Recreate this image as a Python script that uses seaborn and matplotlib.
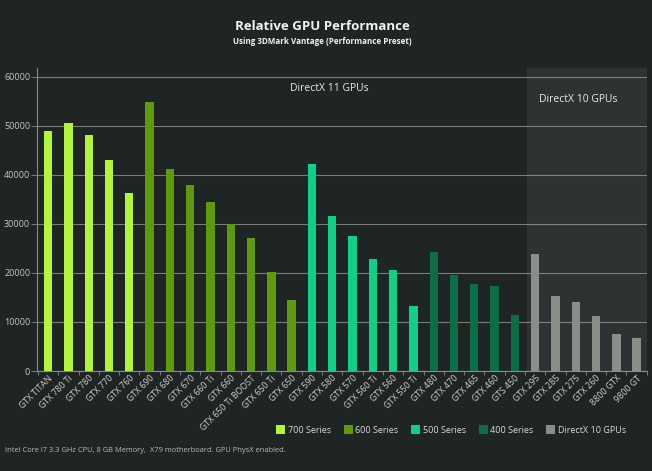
import matplotlib
matplotlib.use("Agg")
import matplotlib.pyplot as plt
import seaborn as sns
import pandas as pd
from matplotlib.ticker import MultipleLocator, FixedLocator
from matplotlib.patches import Patch

gpus = ["GTX TITAN", "GTX 780 Ti", "GTX 780", "GTX 770", "GTX 760",
        "GTX 690", "GTX 680", "GTX 670", "GTX 660 Ti", "GTX 660",
        "GTX 650 Ti BOOST", "GTX 650 Ti", "GTX 650",
        "GTX 590", "GTX 580", "GTX 570", "GTX 560 Ti", "GTX 560", "GTX 550 Ti",
        "GTX 480", "GTX 470", "GTX 465", "GTX 460", "GTS 450",
        "GTX 295", "GTX 285", "GTX 275", "GTX 260", "8800 GTX", "9800 GT"]
scores = [48900, 50600, 48200, 43100, 36400,
          54900, 41300, 38000, 34400, 29900,
          27050, 20200, 14500,
          42300, 31550, 27500, 22900, 20500, 13200,
          24300, 19550, 17650, 17300, 11500,
          23800, 15250, 14100, 11300, 7550, 6750]
series = (["700 Series"] * 5 + ["600 Series"] * 8 + ["500 Series"] * 6
          + ["400 Series"] * 5 + ["DirectX 10 GPUs"] * 6)
series_order = ["700 Series", "600 Series", "500 Series", "400 Series", "DirectX 10 GPUs"]
series_colors = ["#b4f53c", "#5e9a10", "#12cf88", "#0b6e46", "#8b8d89"]

df = pd.DataFrame({"gpu": gpus, "score": scores, "series": series})

BG = "#1f2424"
sns.set_theme(style="dark")
plt.rcParams["font.family"] = ["Open Sans", "DejaVu Sans"]

fig = plt.figure(figsize=(6.52, 4.71), dpi=100, facecolor=BG)
ax = fig.add_axes([0.057, 0.2123, 0.935, 0.6433])
ax.set_facecolor(BG)

ax.axvspan(23.6, 29.5, color="#2d3333", zorder=0, lw=0)

sns.barplot(data=df, x="gpu", y="score", hue="series", hue_order=series_order,
            palette=series_colors, dodge=False, width=0.41, saturation=1,
            ax=ax, zorder=3, edgecolor="none")

ax.set_xlim(-0.54, 29.5)
ax.set_ylim(0, 61800)
ax.yaxis.set_major_locator(MultipleLocator(10000))
ax.grid(axis="y", color="#9a9c9a", lw=0.8, alpha=0.75, zorder=1)
ax.grid(axis="x", visible=False)
ax.set_axisbelow(True)
ax.set_xlabel("")
ax.set_ylabel("")

for s in ["top", "right"]:
    ax.spines[s].set_visible(False)
for s in ["left", "bottom"]:
    ax.spines[s].set_visible(True)
    ax.spines[s].set_color("#8a8c8a")
    ax.spines[s].set_linewidth(0.8)

ax.tick_params(axis="y", colors="#c4c7c4", labelsize=6.5, length=4, width=0.6,
               direction="out", left=True, color="#8a8c8a", pad=1)
ax.tick_params(axis="x", colors="#cfd2cf", labelsize=6.3, length=0, pad=2)
ax.xaxis.set_minor_locator(FixedLocator([i + 0.5 for i in range(-1, 30)]))
ax.tick_params(axis="x", which="minor", bottom=True, length=3, width=0.6, color="#8a8c8a")
for lab in ax.get_yticklabels():
    lab.set_color("#c4c7c4")
plt.setp(ax.get_xticklabels(), rotation=45, ha="right", rotation_mode="anchor", color="#cfd2cf")

ax.text(13.84, 57550, "DirectX 11 GPUs", color="#e6e8e6", fontsize=7.5, ha="center", va="center")
ax.text(26.1, 55300, "DirectX 10 GPUs", color="#e6e8e6", fontsize=7.5, ha="center", va="center")

fig.text(0.494, 1 - 27 / 471, "Relative GPU Performance", color="#f2f2f2",
         fontsize=9.5, fontweight="bold", ha="center", va="center")
fig.text(0.494, 1 - 42 / 471, "Using 3DMark Vantage (Performance Preset)", color="#f2f2f2",
         fontsize=5.8, fontweight="bold", ha="center", va="center")
fig.text(5 / 652, 1 - 451 / 471,
         "Intel Core i7 3.3 GHz CPU, 8 GB Memory,  X79 motherboard. GPU PhysX enabled.",
         color="#b8bab8", fontsize=5.4, ha="left", va="center")

leg = ax.get_legend()
if leg is not None:
    leg.remove()
handles = [Patch(facecolor=c, edgecolor="none") for c in series_colors]
fig.legend(handles, series_order, loc="center", bbox_to_anchor=(451 / 652, 1 - 430 / 471),
           ncol=5, frameon=False, fontsize=6.5, labelcolor="#d8dad8",
           handlelength=1.0, handleheight=1.0, handletextpad=0.3, columnspacing=1.4)

fig.savefig("out.png", dpi=100, facecolor=BG)
